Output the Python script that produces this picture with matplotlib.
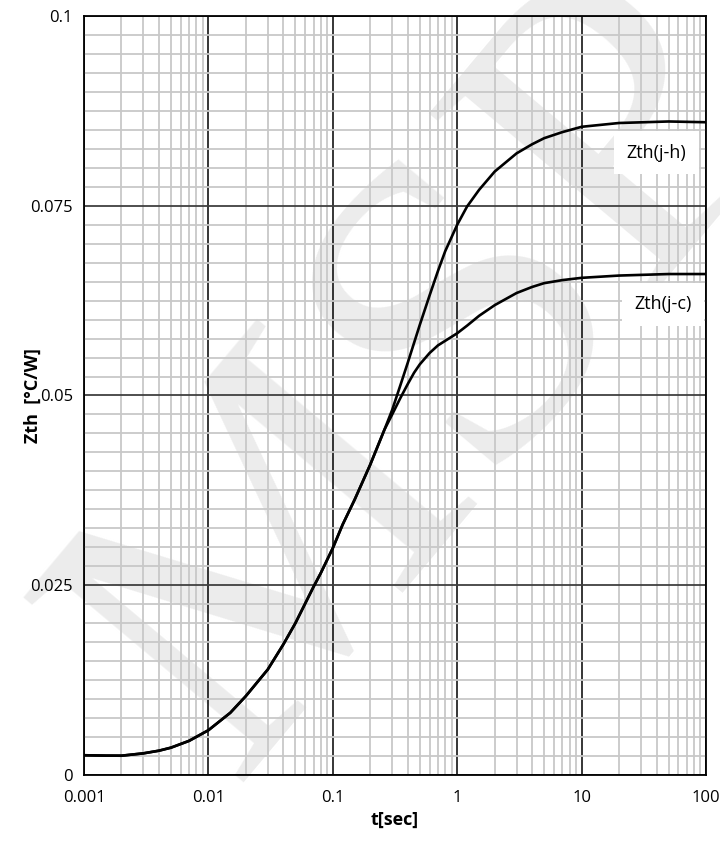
import numpy as np
import matplotlib
matplotlib.use("Agg")
import matplotlib.pyplot as plt
import matplotlib.ticker as ticker

plt.rcParams['font.family'] = ['Open Sans', 'DejaVu Sans']

# shared part of both curves (t < ~0.26 s)
t_common = [0.001, 0.0015, 0.002, 0.003, 0.004, 0.005, 0.007, 0.01, 0.015,
            0.02, 0.03, 0.04, 0.05, 0.06, 0.07, 0.08, 0.1, 0.12, 0.15, 0.2, 0.26]
z_common = [0.0026, 0.00255, 0.00254, 0.00285, 0.0032, 0.0036, 0.0045, 0.0059,
            0.0082, 0.0104, 0.0139, 0.0172, 0.0200, 0.0226, 0.0248, 0.0266,
            0.0299, 0.0330, 0.0363, 0.0409, 0.0455]

# Zth(j-h) after the split
t_jh = [0.3, 0.35, 0.4, 0.5, 0.6, 0.7, 0.8, 1, 1.2, 1.5, 2, 3, 4, 5, 7, 10,
        20, 50, 100]
z_jh = [0.0481, 0.0514, 0.0543, 0.0593, 0.0632, 0.0664, 0.0690, 0.0725,
        0.0749, 0.0771, 0.0795, 0.0819, 0.0831, 0.0839, 0.0847, 0.0854,
        0.0859, 0.0861, 0.0860]

# Zth(j-c) after the split
t_jc = [0.3, 0.35, 0.4, 0.45, 0.5, 0.6, 0.7, 1, 1.2, 1.5, 2, 3, 4, 5, 7, 10,
        20, 50, 100]
z_jc = [0.0475, 0.0497, 0.0515, 0.0530, 0.0541, 0.0556, 0.0566, 0.0582,
        0.0592, 0.0605, 0.0619, 0.0635, 0.0643, 0.0648, 0.0652, 0.0655,
        0.0658, 0.0660, 0.0660]

x_ticks = [0.001, 0.01, 0.1, 1, 10, 100]
x_labels = ['0.001', '0.01', '0.1', '1', '10', '100']
y_ticks = [0, 0.025, 0.05, 0.075, 0.1]
y_labels = ['0', '0.025', '0.05', '0.075', '0.1']

fig = plt.figure(figsize=(7.2, 8.41), dpi=100)
ax = fig.add_axes([0.1167, 0.0785, 0.8639, 0.9025])
ax.patch.set_alpha(0)

# watermark behind everything
fig.text(0.60, 0.55, 'MSP', fontsize=315, family='Liberation Serif',
         color='#ececec', rotation=50, ha='center', va='center', zorder=-5)

ax.plot(t_common + t_jh, z_common + z_jh, color='black', lw=1.9, zorder=4)
ax.plot(t_common + t_jc, z_common + z_jc, color='black', lw=1.9, zorder=4)

ax.set_xscale('log')
ax.set_xlim(0.001, 100)
ax.set_ylim(0, 0.1)

ax.set_xticks(x_ticks)
ax.set_xticklabels(x_labels)
ax.xaxis.set_minor_locator(ticker.LogLocator(base=10, subs=np.arange(2, 10), numticks=20))
ax.xaxis.set_minor_formatter(ticker.NullFormatter())
ax.set_yticks(y_ticks)
ax.set_yticklabels(y_labels)
ax.yaxis.set_minor_locator(ticker.MultipleLocator(0.0025))

ax.grid(which='minor', color='#c8c8c8', lw=1.3)
ax.grid(which='major', axis='x', color='black', lw=1.1)
ax.grid(which='major', axis='y', color='#404040', lw=1.3)
ax.set_axisbelow(True)
ax.tick_params(which='both', length=0, labelsize=12, colors='black', pad=8)
ax.tick_params(axis='x', pad=11)
for s in ax.spines.values():
    s.set_color('black')
    s.set_linewidth(1.3)

ax.set_xlabel('t[sec]', fontsize=13, fontweight='bold', labelpad=3)
ax.set_ylabel('Zth  [°C/W]', fontsize=13, fontweight='bold', labelpad=-8)

ax.text(40, 0.0820, 'Zth(j-h)', fontsize=13, ha='center', va='center', zorder=5,
        bbox=dict(boxstyle='square,pad=0.7', fc='white', ec='none'))
ax.text(45, 0.0620, 'Zth(j-c)', fontsize=13, ha='center', va='center', zorder=5,
        bbox=dict(boxstyle='square,pad=0.7', fc='white', ec='none'))

fig.savefig('out.png', dpi=100)
